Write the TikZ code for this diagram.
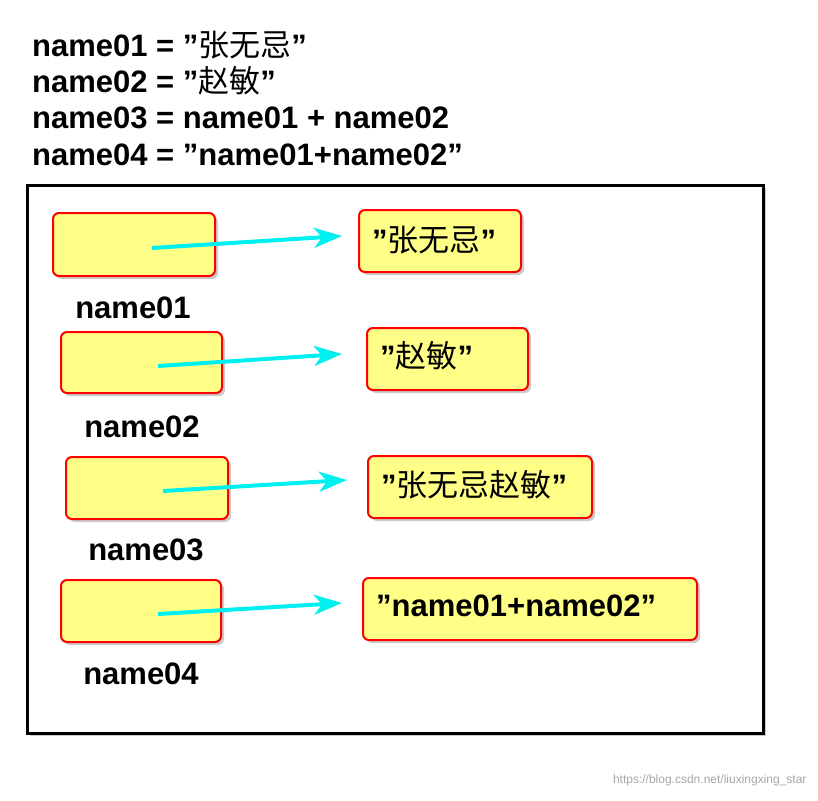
\documentclass[tikz,border=0pt]{standalone}
\usepackage{fontspec}
\setmainfont{Liberation Sans}
\newfontfamily\cjk{Noto Sans CJK SC}
\usetikzlibrary{arrows.meta,shadows}
\definecolor{boxyellow}{HTML}{FFFF88}
\definecolor{arrcyan}{HTML}{00F0F0}
\newcommand\qq{\char34\relax}
\tikzset{
  ybox/.style={draw=red,line width=2pt,fill=boxyellow,rounded corners=6pt,drop shadow={shadow xshift=3pt,shadow yshift=-3pt,opacity=0.4}},
  lbl/.style={font=\fontsize{31}{33}\selectfont\bfseries,anchor=center,inner sep=0pt},
  txt/.style={font=\fontsize{31}{33}\selectfont\bfseries,anchor=west,inner sep=0pt},
  arr/.style={arrcyan,line width=4pt,-{Stealth[length=28pt,width=20pt,inset=8pt]}}
}
\begin{document}
\begin{tikzpicture}[x=1pt,y=-1pt]
\useasboundingbox (0,0) rectangle (818,800);
\node[txt] (t1) at (32,45) {name01 = \qq{\cjk\mdseries 张无忌}\qq};
\node[txt] (t2) at (32,81) {name02 = \qq{\cjk\mdseries 赵敏}\qq};
\node[txt] (t3) at (32,118) {name03 = name01 + name02};
\node[txt] (t4) at (32,155) {name04 = \qq name01+name02\qq};
\draw[line width=3pt,drop shadow={shadow xshift=3pt,shadow yshift=-3pt,opacity=0.4},fill=white] (27,185) rectangle (763,733);
% left boxes
\draw[ybox] (53,213) rectangle (215,276);
\draw[ybox] (61,332) rectangle (222,393);
\draw[ybox] (66,457) rectangle (228,519);
\draw[ybox] (61,580) rectangle (221,642);
\node[lbl] (l1) at (133,308) {name01};
\node[lbl] (l2) at (142,427) {name02};
\node[lbl] (l3) at (146,550) {name03};
\node[lbl] (l4) at (141,674) {name04};
% right boxes
\draw[ybox] (359,210) rectangle (521,272);
\draw[ybox] (367,328) rectangle (528,390);
\draw[ybox] (368,456) rectangle (592,518);
\draw[ybox] (363,578) rectangle (697,640);
\node[txt] (v1) at (372,240) {\qq{\cjk\mdseries 张无忌}\qq};
\node[txt] (v2) at (380,356) {\qq{\cjk\mdseries 赵敏}\qq};
\node[txt] (v3) at (381,485) {\qq{\cjk\mdseries 张无忌赵敏}\qq};
\node[txt] (v4) at (376,606) {\qq name01+name02\qq};
% arrows
\coordinate (s1) at (152,248); \coordinate (e1) at (342,236);
\coordinate (s2) at (158,366); \coordinate (e2) at (342,354);
\coordinate (s3) at (163,491); \coordinate (e3) at (347,480);
\coordinate (s4) at (158,614); \coordinate (e4) at (342,603);
\foreach \i in {1,2,3,4} \draw[arr] (s\i) -- (e\i);
\node[anchor=east,text=gray!70,font=\fontsize{12}{13}\selectfont] (wm) at (810,780) {https://blog.csdn.net/liuxingxing\_star};
\end{tikzpicture}
\end{document}
